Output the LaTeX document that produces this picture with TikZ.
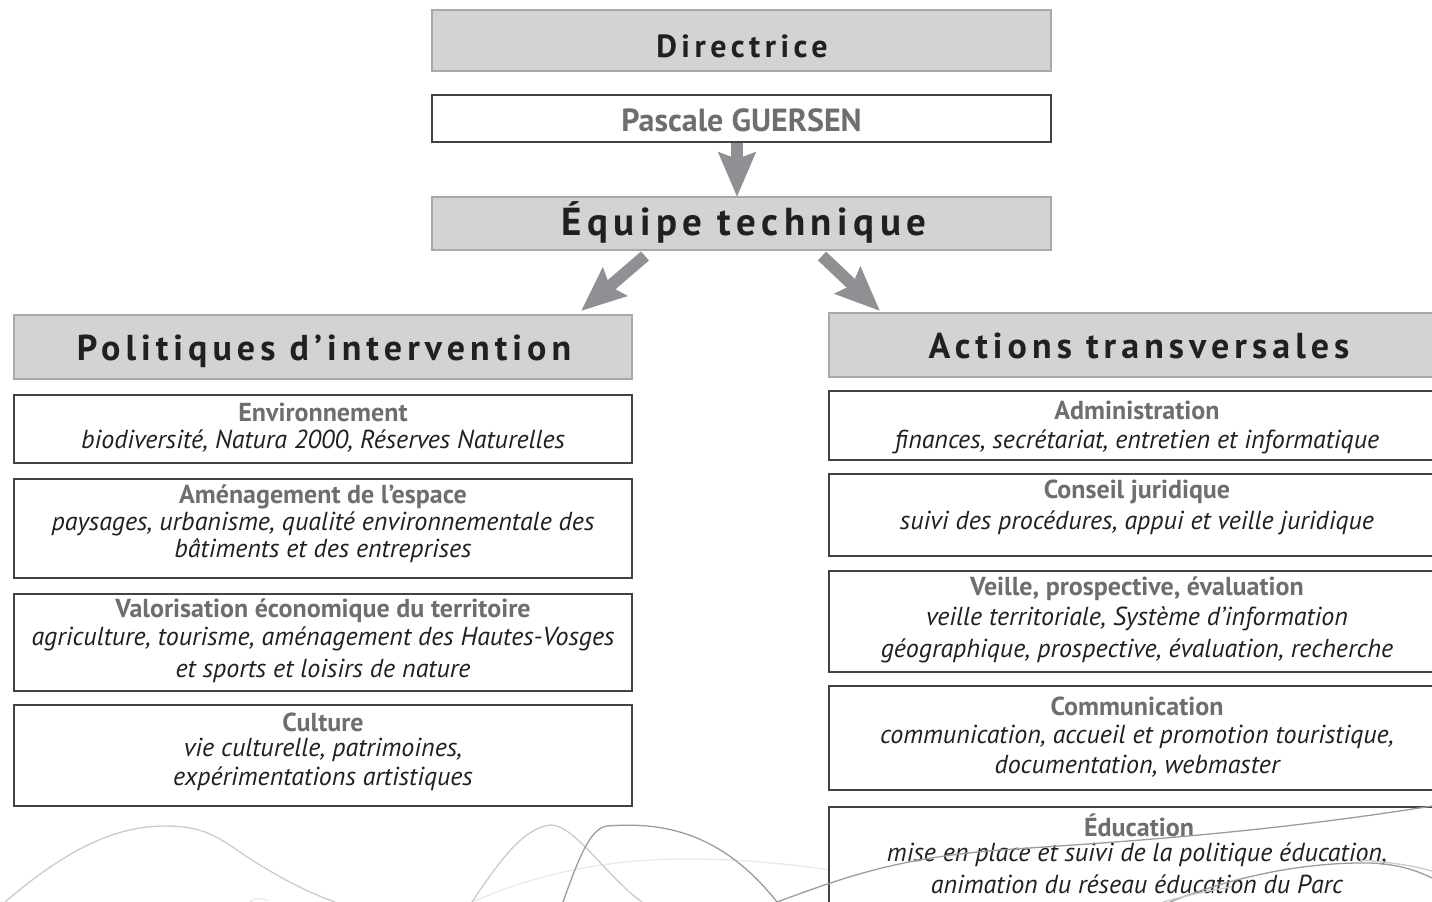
\documentclass[tikz,border=0pt]{standalone}
\usepackage{fontspec}
\setmainfont{PT Sans}
\newfontfamily\headfont[LetterSpace=14]{PT Sans}
\usetikzlibrary{arrows.meta}
\definecolor{gfill}{HTML}{D1D3D4}
\definecolor{gborder}{HTML}{A7A9AC}
\definecolor{arrowc}{HTML}{8E9093}
\definecolor{titlec}{HTML}{6D6E71}
\definecolor{bodyc}{HTML}{231F20}
\definecolor{curvea}{HTML}{CBCBCB}
\definecolor{curveb}{HTML}{9C9C9C}
\definecolor{curvec}{HTML}{E9E9E9}
\tikzset{
  gbox/.style={draw=gborder, fill=gfill, line width=1.4pt, inner sep=0pt},
  wbox/.style={draw=bodyc!85, fill=white, line width=1.3pt, inner sep=0pt},
  headtxt/.style={font=\headfont\bfseries, text=bodyc, inner sep=0pt},
  nametxt/.style={font=\bfseries\fontsize{32}{36}\selectfont, text=titlec, inner sep=0pt},
  ttl/.style={font=\bfseries\fontsize{26}{29}\selectfont, text=titlec, inner sep=0pt},
  itl/.style={font=\itshape\fontsize{26}{29}\selectfont, text=bodyc, inner sep=0pt},
  bigarrow/.style={draw=arrowc, line width=12pt, -{Stealth[length=44pt, width=36pt, inset=6pt]}},
  deco/.style={line width=1.3pt}
}
\begin{document}
\begin{tikzpicture}[x=1pt, y=-1pt]
\useasboundingbox (0,0) rectangle (1432,902);
% decorative curves
\draw[deco, curvec] (472,902) .. controls (540,872) and (610,860) .. (677,859) .. controls (760,858) and (860,870) .. (945,895);
\draw[deco, curvea] (5,902) .. controls (60,855) and (110,826) .. (165,826) .. controls (215,826) and (225,845) .. (265,868) .. controls (290,883) and (310,893) .. (335,902);
\draw[deco, curvec] (250,902) .. controls (255,898) and (261,897) .. (268,901);
\draw[deco, curvea] (472,902) .. controls (500,860) and (525,826) .. (552,825) .. controls (575,826) and (610,880) .. (642,902);
\draw[deco, curveb] (563,902) .. controls (578,860) and (590,828) .. (607,826) .. controls (660,822) and (720,830) .. (777,902);
% boxes
\node[gbox, minimum width=619pt, minimum height=61pt] (dir) at (741.5,40.5) {};
\node[headtxt, font=\headfont\bfseries\fontsize{32}{36}\selectfont] (dirt) at (742,46) {Directrice};
\node[wbox, minimum width=619pt, minimum height=47pt] (pg) at (741.5,118.5) {};
\node[nametxt] (pgt) at (741.5,120) {Pascale GUERSEN};
\node[gbox, minimum width=619pt, minimum height=53pt] (eq) at (741.5,223.5) {};
\node[headtxt, font=\headfont\bfseries\fontsize{39}{42}\selectfont] (eqt) at (744,222) {Équipe technique};
\node[gbox, minimum width=618pt, minimum height=64pt] (pol) at (323,347) {};
\node[headtxt, font=\headfont\bfseries\fontsize{36}{40}\selectfont] (polt) at (324,351) {Politiques d’intervention};
\node[gbox, minimum width=620pt, minimum height=64pt] (act) at (1139,345) {};
\node[headtxt, font=\headfont\bfseries\fontsize{36}{40}\selectfont] (actt) at (1139,346) {Actions transversales};
% arrows
\coordinate (a0) at (737,142);
\coordinate (a1) at (737,197);
\draw[bigarrow] (pg.south -| a0) -- (a1);
\coordinate (l0) at (645,256);
\coordinate (l1) at (581,311);
\draw[bigarrow] (l0) -- (l1);
\coordinate (r0) at (822,256);
\coordinate (r1) at (880,311);
\draw[bigarrow] (r0) -- (r1);
% left boxes
\node[wbox, minimum width=618pt, minimum height=68pt] (env) at (323,429) {};
\node[ttl] (envt) at (323,412) {Environnement};
\node[itl] (envi) at (323,441) {biodiversité, Natura 2000, Réserves Naturelles};
\node[wbox, minimum width=618pt, minimum height=99pt] (ame) at (323,528.5) {};
\node[ttl] (amet) at (323,497) {Aménagement de l’espace};
\node[itl] (amei1) at (323,524) {paysages, urbanisme, qualité environnementale des};
\node[itl] (amei2) at (323,551) {bâtiments et des entreprises};
\node[wbox, minimum width=618pt, minimum height=97pt] (val) at (323,642.5) {};
\node[ttl] (valt) at (323,611) {Valorisation économique du territoire};
\node[itl] (vali1) at (323,639) {agriculture, tourisme, aménagement des Hautes-Vosges};
\node[itl] (vali2) at (323,671) {et sports et loisirs de nature};
\node[wbox, minimum width=618pt, minimum height=101pt] (cul) at (323,755.5) {};
\node[ttl] (cult) at (323,722) {Culture};
\node[itl] (culi1) at (323,750) {vie culturelle, patrimoines,};
\node[itl] (culi2) at (323,779) {expérimentations artistiques};
% right boxes
\node[wbox, minimum width=620pt, minimum height=69pt] (adm) at (1139,425.5) {};
\node[ttl] (admt) at (1137,410) {Administration};
\node[itl] (admi) at (1137,442) {finances, secrétariat, entretien et informatique};
\node[wbox, minimum width=620pt, minimum height=82pt] (con) at (1139,515) {};
\node[ttl] (cont) at (1137,492) {Conseil juridique};
\node[itl] (coni) at (1137,523) {suivi des procédures, appui et veille juridique};
\node[wbox, minimum width=620pt, minimum height=101pt] (vei) at (1139,621.5) {};
\node[ttl] (veit) at (1137,589) {Veille, prospective, évaluation};
\node[itl] (veii1) at (1137,619) {veille territoriale, Système d’information};
\node[itl] (veii2) at (1137,651) {géographique, prospective, évaluation, recherche};
\node[wbox, minimum width=620pt, minimum height=104pt] (com) at (1139,738) {};
\node[ttl] (comt) at (1137,706) {Communication};
\node[itl] (comi1) at (1137,737) {communication, accueil et promotion touristique,};
\node[itl] (comi2) at (1137,766) {documentation, webmaster};
\node[wbox, minimum width=620pt, minimum height=110pt] (edu) at (1139,862) {};
\node[ttl] (edut) at (1139,825) {Éducation};
\node[itl] (edui1) at (1137,855) {mise en place et suivi de la politique éducation,};
\node[itl] (edui2) at (1137,884) {animation du réseau éducation du Parc};
% decorative curves over the last box
\draw[deco, curveb] (777,902) .. controls (850,875) and (900,858) .. (1000,850) .. controls (1100,843) and (1250,835) .. (1432,806);
\draw[deco, curveb] (1170,902) .. controls (1230,878) and (1300,862) .. (1370,863) .. controls (1400,864) and (1420,872) .. (1432,878);
\draw[deco, curvea] (1360,860) .. controls (1390,862) and (1415,866) .. (1432,871);
\draw[deco, curvea] (1163,902) .. controls (1185,896) and (1210,890) .. (1232,887);
\end{tikzpicture}
\end{document}
